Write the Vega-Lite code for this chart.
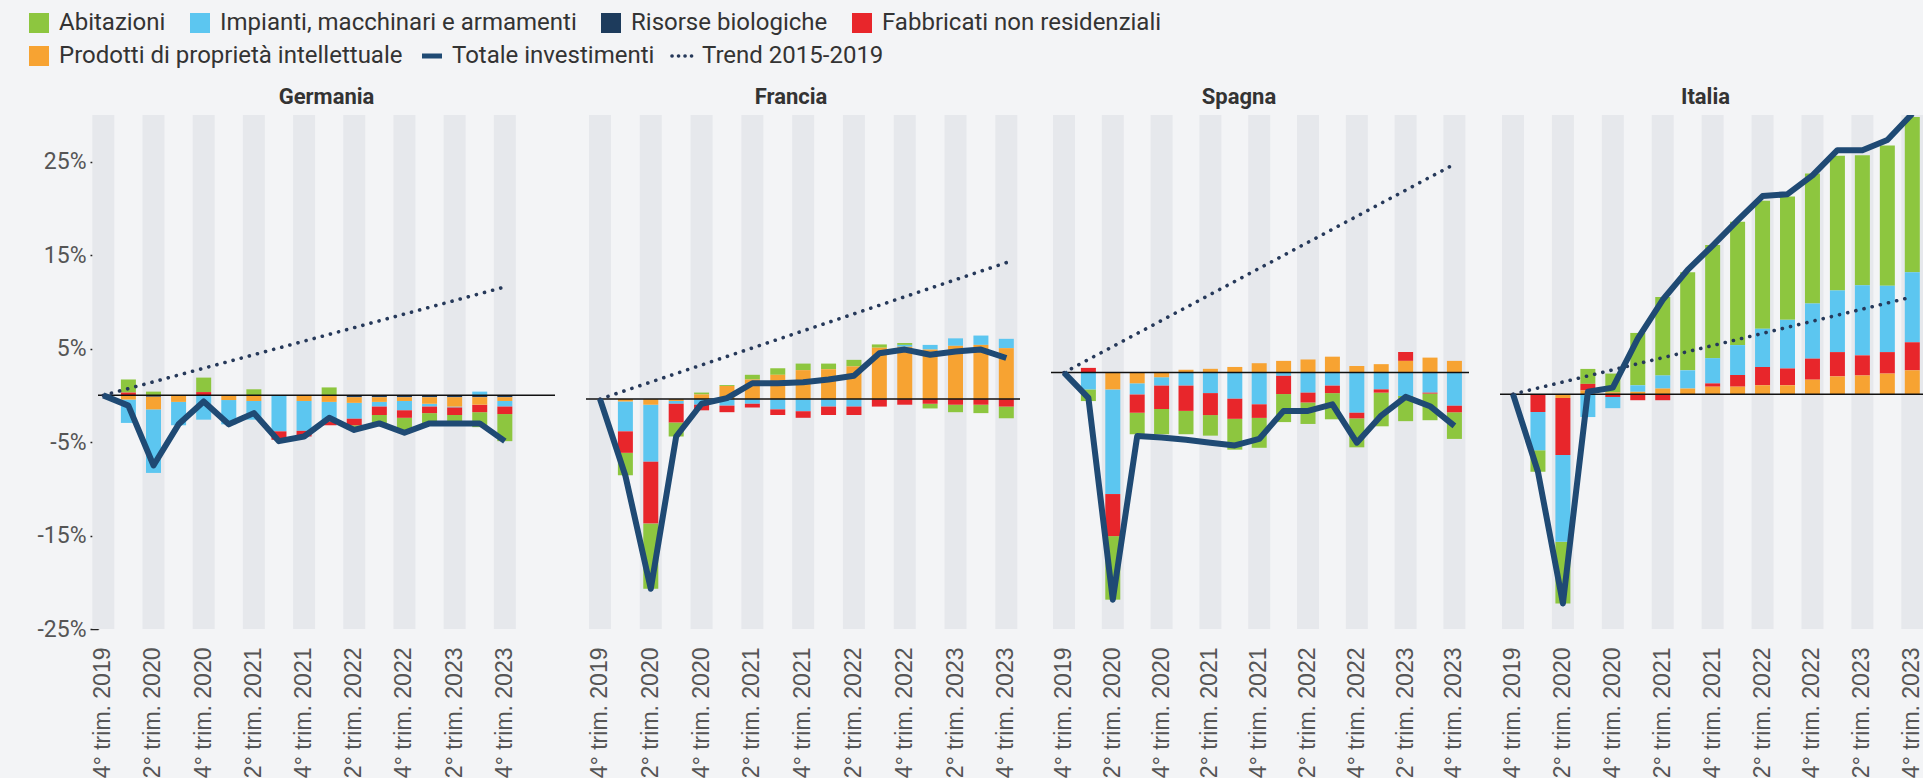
{
  "$schema": "https://vega.github.io/schema/vega-lite/v6.json",
  "background": "#f3f4f6",
  "padding": {"left": 27, "top": 11, "right": 0, "bottom": 0},
  "spacing": 29,
  "config": {
    "view": {"stroke": null},
    "title": {"font": "Roboto", "fontSize": 22, "fontWeight": "bold", "color": "#333333", "offset": 6, "anchor": "middle", "frame": "group"},
    "axisX": {"domain": false, "ticks": false, "grid": false, "labelAngle": -90, "labelPadding": 18, "labelFont": "Liberation Sans", "labelFontSize": 23, "labelColor": "#555555", "title": null, "labelOverlap": false},
    "axisY": {"grid": false, "title": null, "domainColor": "#222222", "domainWidth": 1.5, "tickColor": "#222222", "tickWidth": 1.5, "tickSize": 8, "labelFont": "Roboto", "labelFontSize": 23, "labelColor": "#555555", "labelPadding": 4}
  },
  "resolve": {"scale": {"fill": "shared", "color": "shared", "x": "independent", "y": "independent"}},
  "datasets": {
    "trimestri": [
      {"paese": "Germania", "trimestre": "4° trim. 2019", "Abitazioni": 0, "Impianti, macchinari e armamenti": 0, "Risorse biologiche": 0, "Fabbricati non residenziali": 0, "Prodotti di proprietà intellettuale": 0, "Totale investimenti": 0},
      {"paese": "Germania", "trimestre": "1° trim. 2020", "Abitazioni": 1.4, "Impianti, macchinari e armamenti": -2.5, "Risorse biologiche": 0, "Fabbricati non residenziali": 0.3, "Prodotti di proprietà intellettuale": -0.45, "Totale investimenti": -1.1},
      {"paese": "Germania", "trimestre": "2° trim. 2020", "Abitazioni": 0.4, "Impianti, macchinari e armamenti": -6.8, "Risorse biologiche": -0.15, "Fabbricati non residenziali": 0, "Prodotti di proprietà intellettuale": -1.35, "Totale investimenti": -7.5},
      {"paese": "Germania", "trimestre": "3° trim. 2020", "Abitazioni": 0, "Impianti, macchinari e armamenti": -2.5, "Risorse biologiche": 0, "Fabbricati non residenziali": 0, "Prodotti di proprietà intellettuale": -0.7, "Totale investimenti": -3.1},
      {"paese": "Germania", "trimestre": "4° trim. 2020", "Abitazioni": 1.55, "Impianti, macchinari e armamenti": -2.6, "Risorse biologiche": 0, "Fabbricati non residenziali": 0.35, "Prodotti di proprietà intellettuale": 0, "Totale investimenti": -0.65},
      {"paese": "Germania", "trimestre": "1° trim. 2021", "Abitazioni": 0, "Impianti, macchinari e armamenti": -2.6, "Risorse biologiche": 0, "Fabbricati non residenziali": 0, "Prodotti di proprietà intellettuale": -0.5, "Totale investimenti": -3.1},
      {"paese": "Germania", "trimestre": "2° trim. 2021", "Abitazioni": 0.65, "Impianti, macchinari e armamenti": -2.0, "Risorse biologiche": 0, "Fabbricati non residenziali": 0, "Prodotti di proprietà intellettuale": -0.6, "Totale investimenti": -1.9},
      {"paese": "Germania", "trimestre": "3° trim. 2021", "Abitazioni": 0, "Impianti, macchinari e armamenti": -3.85, "Risorse biologiche": 0, "Fabbricati non residenziali": -0.9, "Prodotti di proprietà intellettuale": 0, "Totale investimenti": -4.9},
      {"paese": "Germania", "trimestre": "4° trim. 2021", "Abitazioni": 0, "Impianti, macchinari e armamenti": -3.2, "Risorse biologiche": 0, "Fabbricati non residenziali": -0.6, "Prodotti di proprietà intellettuale": -0.6, "Totale investimenti": -4.4},
      {"paese": "Germania", "trimestre": "1° trim. 2022", "Abitazioni": 0.85, "Impianti, macchinari e armamenti": -2.1, "Risorse biologiche": 0, "Fabbricati non residenziali": -0.4, "Prodotti di proprietà intellettuale": -0.7, "Totale investimenti": -2.4},
      {"paese": "Germania", "trimestre": "2° trim. 2022", "Abitazioni": -0.5, "Impianti, macchinari e armamenti": -1.7, "Risorse biologiche": -0.2, "Fabbricati non residenziali": -0.7, "Prodotti di proprietà intellettuale": -0.6, "Totale investimenti": -3.7},
      {"paese": "Germania", "trimestre": "3° trim. 2022", "Abitazioni": -0.9, "Impianti, macchinari e armamenti": -0.5, "Risorse biologiche": -0.2, "Fabbricati non residenziali": -0.9, "Prodotti di proprietà intellettuale": -0.5, "Totale investimenti": -3.0},
      {"paese": "Germania", "trimestre": "4° trim. 2022", "Abitazioni": -1.6, "Impianti, macchinari e armamenti": -1.0, "Risorse biologiche": -0.2, "Fabbricati non residenziali": -0.8, "Prodotti di proprietà intellettuale": -0.4, "Totale investimenti": -4.0},
      {"paese": "Germania", "trimestre": "1° trim. 2023", "Abitazioni": -1.1, "Impianti, macchinari e armamenti": -0.3, "Risorse biologiche": -0.2, "Fabbricati non residenziali": -0.7, "Prodotti di proprietà intellettuale": -0.7, "Totale investimenti": -3.0},
      {"paese": "Germania", "trimestre": "2° trim. 2023", "Abitazioni": -0.9, "Impianti, macchinari e armamenti": -0.1, "Risorse biologiche": -0.2, "Fabbricati non residenziali": -0.8, "Prodotti di proprietà intellettuale": -1.0, "Totale investimenti": -3.0},
      {"paese": "Germania", "trimestre": "3° trim. 2023", "Abitazioni": -1.6, "Impianti, macchinari e armamenti": 0.4, "Risorse biologiche": -0.2, "Fabbricati non residenziali": -0.8, "Prodotti di proprietà intellettuale": -0.8, "Totale investimenti": -3.0},
      {"paese": "Germania", "trimestre": "4° trim. 2023", "Abitazioni": -2.9, "Impianti, macchinari e armamenti": -0.6, "Risorse biologiche": -0.2, "Fabbricati non residenziali": -0.8, "Prodotti di proprietà intellettuale": -0.4, "Totale investimenti": -4.9},
      {"paese": "Francia", "trimestre": "4° trim. 2019", "Abitazioni": 0, "Impianti, macchinari e armamenti": 0, "Risorse biologiche": 0, "Fabbricati non residenziali": 0, "Prodotti di proprietà intellettuale": 0, "Totale investimenti": 0},
      {"paese": "Francia", "trimestre": "1° trim. 2020", "Abitazioni": -2.4, "Impianti, macchinari e armamenti": -3.2, "Risorse biologiche": 0, "Fabbricati non residenziali": -2.3, "Prodotti di proprietà intellettuale": -0.25, "Totale investimenti": -8.2},
      {"paese": "Francia", "trimestre": "2° trim. 2020", "Abitazioni": -7.0, "Impianti, macchinari e armamenti": -6.1, "Risorse biologiche": 0, "Fabbricati non residenziali": -6.6, "Prodotti di proprietà intellettuale": -0.6, "Totale investimenti": -20.3},
      {"paese": "Francia", "trimestre": "3° trim. 2020", "Abitazioni": -1.5, "Impianti, macchinari e armamenti": -0.3, "Risorse biologiche": 0, "Fabbricati non residenziali": -2.0, "Prodotti di proprietà intellettuale": -0.2, "Totale investimenti": -4.0},
      {"paese": "Francia", "trimestre": "4° trim. 2020", "Abitazioni": 0.2, "Impianti, macchinari e armamenti": -0.6, "Risorse biologiche": 0, "Fabbricati non residenziali": -0.6, "Prodotti di proprietà intellettuale": 0.5, "Totale investimenti": -0.5},
      {"paese": "Francia", "trimestre": "1° trim. 2021", "Abitazioni": 0.1, "Impianti, macchinari e armamenti": -0.7, "Risorse biologiche": 0, "Fabbricati non residenziali": -0.7, "Prodotti di proprietà intellettuale": 1.4, "Totale investimenti": 0.1},
      {"paese": "Francia", "trimestre": "2° trim. 2021", "Abitazioni": 0.5, "Impianti, macchinari e armamenti": -0.5, "Risorse biologiche": 0, "Fabbricati non residenziali": -0.4, "Prodotti di proprietà intellettuale": 2.1, "Totale investimenti": 1.7},
      {"paese": "Francia", "trimestre": "3° trim. 2021", "Abitazioni": 0.7, "Impianti, macchinari e armamenti": -1.1, "Risorse biologiche": 0, "Fabbricati non residenziali": -0.6, "Prodotti di proprietà intellettuale": 2.6, "Totale investimenti": 1.7},
      {"paese": "Francia", "trimestre": "4° trim. 2021", "Abitazioni": 0.7, "Impianti, macchinari e armamenti": -1.3, "Risorse biologiche": 0, "Fabbricati non residenziali": -0.7, "Prodotti di proprietà intellettuale": 3.1, "Totale investimenti": 1.8},
      {"paese": "Francia", "trimestre": "1° trim. 2022", "Abitazioni": 0.6, "Impianti, macchinari e armamenti": -0.8, "Risorse biologiche": 0, "Fabbricati non residenziali": -0.9, "Prodotti di proprietà intellettuale": 3.2, "Totale investimenti": 2.1},
      {"paese": "Francia", "trimestre": "2° trim. 2022", "Abitazioni": 0.7, "Impianti, macchinari e armamenti": -0.8, "Risorse biologiche": 0, "Fabbricati non residenziali": -0.9, "Prodotti di proprietà intellettuale": 3.5, "Totale investimenti": 2.5},
      {"paese": "Francia", "trimestre": "3° trim. 2022", "Abitazioni": 0.35, "Impianti, macchinari e armamenti": 0, "Risorse biologiche": 0, "Fabbricati non residenziali": -0.8, "Prodotti di proprietà intellettuale": 5.5, "Totale investimenti": 4.9},
      {"paese": "Francia", "trimestre": "4° trim. 2022", "Abitazioni": 0.2, "Impianti, macchinari e armamenti": 0.2, "Risorse biologiche": 0, "Fabbricati non residenziali": -0.6, "Prodotti di proprietà intellettuale": 5.6, "Totale investimenti": 5.3},
      {"paese": "Francia", "trimestre": "1° trim. 2023", "Abitazioni": -0.5, "Impianti, macchinari e armamenti": 0.5, "Risorse biologiche": 0, "Fabbricati non residenziali": -0.5, "Prodotti di proprietà intellettuale": 5.3, "Totale investimenti": 4.75},
      {"paese": "Francia", "trimestre": "2° trim. 2023", "Abitazioni": -0.8, "Impianti, macchinari e armamenti": 0.8, "Risorse biologiche": 0, "Fabbricati non residenziali": -0.6, "Prodotti di proprietà intellettuale": 5.7, "Totale investimenti": 5.1},
      {"paese": "Francia", "trimestre": "3° trim. 2023", "Abitazioni": -0.9, "Impianti, macchinari e armamenti": 1.0, "Risorse biologiche": 0, "Fabbricati non residenziali": -0.6, "Prodotti di proprietà intellettuale": 5.8, "Totale investimenti": 5.3},
      {"paese": "Francia", "trimestre": "4° trim. 2023", "Abitazioni": -1.25, "Impianti, macchinari e armamenti": 1.0, "Risorse biologiche": 0, "Fabbricati non residenziali": -0.8, "Prodotti di proprietà intellettuale": 5.45, "Totale investimenti": 4.4},
      {"paese": "Spagna", "trimestre": "4° trim. 2019", "Abitazioni": 0, "Impianti, macchinari e armamenti": 0, "Risorse biologiche": 0, "Fabbricati non residenziali": 0, "Prodotti di proprietà intellettuale": 0, "Totale investimenti": 0},
      {"paese": "Spagna", "trimestre": "1° trim. 2020", "Abitazioni": -1.25, "Impianti, macchinari e armamenti": -1.8, "Risorse biologiche": 0, "Fabbricati non residenziali": 0.5, "Prodotti di proprietà intellettuale": 0, "Totale investimenti": -2.7},
      {"paese": "Spagna", "trimestre": "2° trim. 2020", "Abitazioni": -6.8, "Impianti, macchinari e armamenti": -11.2, "Risorse biologiche": 0, "Fabbricati non residenziali": -4.5, "Prodotti di proprietà intellettuale": -1.8, "Totale investimenti": -24.3},
      {"paese": "Spagna", "trimestre": "3° trim. 2020", "Abitazioni": -2.3, "Impianti, macchinari e armamenti": -1.2, "Risorse biologiche": 0, "Fabbricati non residenziali": -1.95, "Prodotti di proprietà intellettuale": -1.15, "Totale investimenti": -6.8},
      {"paese": "Spagna", "trimestre": "4° trim. 2020", "Abitazioni": -2.7, "Impianti, macchinari e armamenti": -0.9, "Risorse biologiche": 0, "Fabbricati non residenziali": -2.5, "Prodotti di proprietà intellettuale": -0.5, "Totale investimenti": -6.95},
      {"paese": "Spagna", "trimestre": "1° trim. 2021", "Abitazioni": -2.5, "Impianti, macchinari e armamenti": -1.4, "Risorse biologiche": 0, "Fabbricati non residenziali": -2.7, "Prodotti di proprietà intellettuale": 0.3, "Totale investimenti": -7.2},
      {"paese": "Spagna", "trimestre": "2° trim. 2021", "Abitazioni": -2.2, "Impianti, macchinari e armamenti": -2.2, "Risorse biologiche": 0, "Fabbricati non residenziali": -2.35, "Prodotti di proprietà intellettuale": 0.4, "Totale investimenti": -7.5},
      {"paese": "Spagna", "trimestre": "3° trim. 2021", "Abitazioni": -3.3, "Impianti, macchinari e armamenti": -2.8, "Risorse biologiche": 0, "Fabbricati non residenziali": -2.15, "Prodotti di proprietà intellettuale": 0.6, "Totale investimenti": -7.8},
      {"paese": "Spagna", "trimestre": "4° trim. 2021", "Abitazioni": -3.2, "Impianti, macchinari e armamenti": -3.4, "Risorse biologiche": 0, "Fabbricati non residenziali": -1.45, "Prodotti di proprietà intellettuale": 1.0, "Totale investimenti": -7.1},
      {"paese": "Spagna", "trimestre": "1° trim. 2022", "Abitazioni": -3.0, "Impianti, macchinari e armamenti": -0.35, "Risorse biologiche": 0, "Fabbricati non residenziali": -1.95, "Prodotti di proprietà intellettuale": 1.25, "Totale investimenti": -4.1},
      {"paese": "Spagna", "trimestre": "2° trim. 2022", "Abitazioni": -2.3, "Impianti, macchinari e armamenti": -2.15, "Risorse biologiche": 0, "Fabbricati non residenziali": -1.05, "Prodotti di proprietà intellettuale": 1.4, "Totale investimenti": -4.1},
      {"paese": "Spagna", "trimestre": "3° trim. 2022", "Abitazioni": -2.8, "Impianti, macchinari e armamenti": -1.4, "Risorse biologiche": 0, "Fabbricati non residenziali": -0.8, "Prodotti di proprietà intellettuale": 1.7, "Totale investimenti": -3.4},
      {"paese": "Spagna", "trimestre": "4° trim. 2022", "Abitazioni": -3.1, "Impianti, macchinari e armamenti": -4.3, "Risorse biologiche": 0, "Fabbricati non residenziali": -0.6, "Prodotti di proprietà intellettuale": 0.7, "Totale investimenti": -7.5},
      {"paese": "Spagna", "trimestre": "1° trim. 2023", "Abitazioni": -3.6, "Impianti, macchinari e armamenti": -1.8, "Risorse biologiche": 0, "Fabbricati non residenziali": -0.35, "Prodotti di proprietà intellettuale": 0.9, "Totale investimenti": -4.6},
      {"paese": "Spagna", "trimestre": "2° trim. 2023", "Abitazioni": -2.7, "Impianti, macchinari e armamenti": -2.5, "Risorse biologiche": 0, "Fabbricati non residenziali": 0.95, "Prodotti di proprietà intellettuale": 1.25, "Totale investimenti": -2.6},
      {"paese": "Spagna", "trimestre": "3° trim. 2023", "Abitazioni": -2.85, "Impianti, macchinari e armamenti": -2.15, "Risorse biologiche": 0, "Fabbricati non residenziali": -0.1, "Prodotti di proprietà intellettuale": 1.6, "Totale investimenti": -3.6},
      {"paese": "Spagna", "trimestre": "4° trim. 2023", "Abitazioni": -2.85, "Impianti, macchinari e armamenti": -3.55, "Risorse biologiche": 0, "Fabbricati non residenziali": -0.7, "Prodotti di proprietà intellettuale": 1.25, "Totale investimenti": -5.7},
      {"paese": "Italia", "trimestre": "4° trim. 2019", "Abitazioni": 0, "Impianti, macchinari e armamenti": 0, "Risorse biologiche": 0, "Fabbricati non residenziali": 0, "Prodotti di proprietà intellettuale": 0, "Totale investimenti": 0},
      {"paese": "Italia", "trimestre": "1° trim. 2020", "Abitazioni": -2.3, "Impianti, macchinari e armamenti": -4.1, "Risorse biologiche": 0, "Fabbricati non residenziali": -1.9, "Prodotti di proprietà intellettuale": 0, "Totale investimenti": -8.3},
      {"paese": "Italia", "trimestre": "2° trim. 2020", "Abitazioni": -6.6, "Impianti, macchinari e armamenti": -9.3, "Risorse biologiche": 0, "Fabbricati non residenziali": -6.1, "Prodotti di proprietà intellettuale": -0.4, "Totale investimenti": -22.4},
      {"paese": "Italia", "trimestre": "3° trim. 2020", "Abitazioni": 1.6, "Impianti, macchinari e armamenti": -2.45, "Risorse biologiche": 0, "Fabbricati non residenziali": 0.7, "Prodotti di proprietà intellettuale": 0.4, "Totale investimenti": 0.25},
      {"paese": "Italia", "trimestre": "4° trim. 2020", "Abitazioni": 2.0, "Impianti, macchinari e armamenti": -1.2, "Risorse biologiche": 0, "Fabbricati non residenziali": -0.3, "Prodotti di proprietà intellettuale": 0.2, "Totale investimenti": 0.7},
      {"paese": "Italia", "trimestre": "1° trim. 2021", "Abitazioni": 5.6, "Impianti, macchinari e armamenti": 0.7, "Risorse biologiche": 0, "Fabbricati non residenziali": -0.65, "Prodotti di proprietà intellettuale": 0.25, "Totale investimenti": 5.95},
      {"paese": "Italia", "trimestre": "2° trim. 2021", "Abitazioni": 8.4, "Impianti, macchinari e armamenti": 1.4, "Risorse biologiche": 0, "Fabbricati non residenziali": -0.65, "Prodotti di proprietà intellettuale": 0.6, "Totale investimenti": 10.1},
      {"paese": "Italia", "trimestre": "3° trim. 2021", "Abitazioni": 10.5, "Impianti, macchinari e armamenti": 1.95, "Risorse biologiche": 0, "Fabbricati non residenziali": 0, "Prodotti di proprietà intellettuale": 0.6, "Totale investimenti": 13.3},
      {"paese": "Italia", "trimestre": "4° trim. 2021", "Abitazioni": 12.1, "Impianti, macchinari e armamenti": 2.7, "Risorse biologiche": 0, "Fabbricati non residenziali": 0.35, "Prodotti di proprietà intellettuale": 0.8, "Totale investimenti": 15.9},
      {"paese": "Italia", "trimestre": "1° trim. 2022", "Abitazioni": 13.2, "Impianti, macchinari e armamenti": 3.2, "Risorse biologiche": 0, "Fabbricati non residenziali": 1.25, "Prodotti di proprietà intellettuale": 0.8, "Totale investimenti": 18.6},
      {"paese": "Italia", "trimestre": "2° trim. 2022", "Abitazioni": 13.7, "Impianti, macchinari e armamenti": 4.1, "Risorse biologiche": 0, "Fabbricati non residenziali": 1.95, "Prodotti di proprietà intellettuale": 0.95, "Totale investimenti": 21.2},
      {"paese": "Italia", "trimestre": "3° trim. 2022", "Abitazioni": 13.2, "Impianti, macchinari e armamenti": 5.2, "Risorse biologiche": 0, "Fabbricati non residenziali": 1.8, "Prodotti di proprietà intellettuale": 0.95, "Totale investimenti": 21.4},
      {"paese": "Italia", "trimestre": "4° trim. 2022", "Abitazioni": 13.9, "Impianti, macchinari e armamenti": 5.9, "Risorse biologiche": 0, "Fabbricati non residenziali": 2.25, "Prodotti di proprietà intellettuale": 1.55, "Totale investimenti": 23.4},
      {"paese": "Italia", "trimestre": "1° trim. 2023", "Abitazioni": 14.4, "Impianti, macchinari e armamenti": 6.6, "Risorse biologiche": 0, "Fabbricati non residenziali": 2.6, "Prodotti di proprietà intellettuale": 1.9, "Totale investimenti": 26.1},
      {"paese": "Italia", "trimestre": "2° trim. 2023", "Abitazioni": 13.9, "Impianti, macchinari e armamenti": 7.5, "Risorse biologiche": 0, "Fabbricati non residenziali": 2.15, "Prodotti di proprietà intellettuale": 2.0, "Totale investimenti": 26.1},
      {"paese": "Italia", "trimestre": "3° trim. 2023", "Abitazioni": 15.0, "Impianti, macchinari e armamenti": 7.1, "Risorse biologiche": 0, "Fabbricati non residenziali": 2.3, "Prodotti di proprietà intellettuale": 2.2, "Totale investimenti": 27.2},
      {"paese": "Italia", "trimestre": "4° trim. 2023", "Abitazioni": 16.6, "Impianti, macchinari e armamenti": 7.5, "Risorse biologiche": 0, "Fabbricati non residenziali": 3.0, "Prodotti di proprietà intellettuale": 2.55, "Totale investimenti": 30.0}
    ],
    "trend": [
      {"paese": "Germania", "trimestre": "4° trim. 2019", "Trend 2015-2019": 0},
      {"paese": "Germania", "trimestre": "4° trim. 2023", "Trend 2015-2019": 11.6},
      {"paese": "Francia", "trimestre": "4° trim. 2019", "Trend 2015-2019": 0},
      {"paese": "Francia", "trimestre": "4° trim. 2023", "Trend 2015-2019": 14.6},
      {"paese": "Spagna", "trimestre": "4° trim. 2019", "Trend 2015-2019": 0},
      {"paese": "Spagna", "trimestre": "4° trim. 2023", "Trend 2015-2019": 22.3},
      {"paese": "Italia", "trimestre": "4° trim. 2019", "Trend 2015-2019": 0},
      {"paese": "Italia", "trimestre": "4° trim. 2023", "Trend 2015-2019": 10.4}
    ]
  },
  "hconcat": [
    {
      "width": 457, "height": 514,
      "title": {"text": "Germania"},
      "layer": [
        {"data": {"name": "trimestri"},
         "transform": [{"filter": {"field": "paese", "equal": "Germania"}}, {"filter": {"field": "trimestre", "oneOf": ["4° trim. 2019", "2° trim. 2020", "4° trim. 2020", "2° trim. 2021", "4° trim. 2021", "2° trim. 2022", "4° trim. 2022", "2° trim. 2023", "4° trim. 2023"]}}],
         "mark": {"type": "bar", "width": 22, "color": "#e6e8ec"},
         "encoding": {
           "x": {"field": "trimestre", "type": "ordinal", "sort": null, "scale": {"domain": ["4° trim. 2019", "1° trim. 2020", "2° trim. 2020", "3° trim. 2020", "4° trim. 2020", "1° trim. 2021", "2° trim. 2021", "3° trim. 2021", "4° trim. 2021", "1° trim. 2022", "2° trim. 2022", "3° trim. 2022", "4° trim. 2022", "1° trim. 2023", "2° trim. 2023", "3° trim. 2023", "4° trim. 2023"], "paddingInner": 0.578, "paddingOuter": 0.894, "align": 0, "round": false}, "axis": {"values": ["4° trim. 2019", "2° trim. 2020", "4° trim. 2020", "2° trim. 2021", "4° trim. 2021", "2° trim. 2022", "4° trim. 2022", "2° trim. 2023", "4° trim. 2023"]}},
           "y": {"value": 0}, "y2": {"value": "height"}
         }},
        {"data": {"name": "trimestri"},
         "transform": [{"filter": {"field": "paese", "equal": "Germania"}}, {"fold": ["Abitazioni", "Impianti, macchinari e armamenti", "Risorse biologiche", "Fabbricati non residenziali", "Prodotti di proprietà intellettuale"], "as": ["componente", "valore"]}, {"calculate": "indexof(['Risorse biologiche', 'Prodotti di proprietà intellettuale', 'Impianti, macchinari e armamenti', 'Fabbricati non residenziali', 'Abitazioni'], datum.componente)", "as": "ordine"}],
         "mark": {"type": "bar", "width": 15},
         "encoding": {
           "x": {"field": "trimestre", "type": "ordinal", "sort": null},
           "y": {"field": "valore", "type": "quantitative", "stack": "zero", "scale": {"domain": [-25, 30], "nice": false, "zero": false}, "axis": {"values": [-25, -15, -5, 5, 15, 25], "labelExpr": "datum.value + '%'"}},
           "fill": {"field": "componente", "type": "nominal",
             "scale": {"domain": ["Abitazioni", "Impianti, macchinari e armamenti", "Risorse biologiche", "Fabbricati non residenziali", "Prodotti di proprietà intellettuale"], "range": ["#8dc63f", "#5cc6f0", "#1d3b5c", "#e8262b", "#f7a332"]},
             "legend": {"orient": "none", "legendX": -71, "legendY": -104, "direction": "horizontal", "title": null, "padding": 0,
               "values": ["Abitazioni", "Impianti, macchinari e armamenti", "Risorse biologiche", "Fabbricati non residenziali"],
               "symbolType": "square", "symbolSize": 400, "symbolStrokeWidth": 0, "symbolOpacity": 1,
               "labelFont": "Roboto", "labelFontSize": 24, "labelColor": "#333333", "labelLimit": 800, "labelOffset": 8, "columnPadding": 22}},
           "order": {"field": "ordine", "type": "quantitative"}
         }},
        {"data": {"values": [{}]},
         "mark": {"type": "rule", "color": "#111111", "strokeWidth": 1.5},
         "encoding": {"y": {"datum": 0, "type": "quantitative"}}},
        {"data": {"name": "trend"},
         "transform": [{"filter": {"field": "paese", "equal": "Germania"}}],
         "mark": {"type": "line", "strokeWidth": 3.6, "strokeDash": [0.1, 8.3], "strokeCap": "round"},
         "encoding": {
           "x": {"field": "trimestre", "type": "ordinal", "sort": null},
           "y": {"field": "Trend 2015-2019", "type": "quantitative"},
           "color": {"datum": "Trend 2015-2019",
             "scale": {"domain": ["Prodotti di proprietà intellettuale", "Totale investimenti", "Trend 2015-2019"], "range": ["#f7a332", "#1f4a74", "#26395a"]},
             "legend": {"orient": "none", "legendX": -71, "legendY": -71, "direction": "horizontal", "title": null, "padding": 0,
               "values": ["Prodotti di proprietà intellettuale", "Totale investimenti", "Trend 2015-2019"],
               "symbolSize": 400,
               "labelFont": "Roboto", "labelFontSize": 24, "labelColor": "#333333", "labelLimit": 800, "labelOffset": 8, "columnPadding": 9,
               "encode": {"symbols": {"update": {
                 "shape": {"signal": "datum.value === 'Prodotti di proprietà intellettuale' ? 'square' : 'stroke'"},
                 "fill": {"signal": "datum.value === 'Prodotti di proprietà intellettuale' ? scale('color', datum.value) : 'transparent'"},
                 "stroke": {"signal": "scale('color', datum.value)"},
                 "strokeWidth": {"signal": "datum.value === 'Totale investimenti' ? 5 : (datum.value === 'Trend 2015-2019' ? 3.6 : 0)"},
                 "strokeDash": {"signal": "datum.value === 'Trend 2015-2019' ? [0.1, 6.4] : []"},
                 "strokeCap": {"signal": "datum.value === 'Trend 2015-2019' ? 'round' : 'butt'"},
                 "opacity": {"value": 1}
               }}}}}
         }},
        {"data": {"name": "trimestri"},
         "transform": [{"filter": {"field": "paese", "equal": "Germania"}}],
         "mark": {"type": "line", "strokeWidth": 6, "strokeJoin": "round"},
         "encoding": {
           "x": {"field": "trimestre", "type": "ordinal", "sort": null},
           "y": {"field": "Totale investimenti", "type": "quantitative"},
           "color": {"datum": "Totale investimenti"}
         }}
      ]
    },
    {
      "width": 434, "height": 514,
      "title": {"text": "Francia", "dx": -12},
      "layer": [
        {"data": {"name": "trimestri"},
         "transform": [{"filter": {"field": "paese", "equal": "Francia"}}, {"filter": {"field": "trimestre", "oneOf": ["4° trim. 2019", "2° trim. 2020", "4° trim. 2020", "2° trim. 2021", "4° trim. 2021", "2° trim. 2022", "4° trim. 2022", "2° trim. 2023", "4° trim. 2023"]}}],
         "mark": {"type": "bar", "width": 22, "color": "#e6e8ec"},
         "encoding": {
           "x": {"field": "trimestre", "type": "ordinal", "sort": null, "scale": {"domain": ["4° trim. 2019", "1° trim. 2020", "2° trim. 2020", "3° trim. 2020", "4° trim. 2020", "1° trim. 2021", "2° trim. 2021", "3° trim. 2021", "4° trim. 2021", "1° trim. 2022", "2° trim. 2022", "3° trim. 2022", "4° trim. 2022", "1° trim. 2023", "2° trim. 2023", "3° trim. 2023", "4° trim. 2023"], "paddingInner": 0, "paddingOuter": 0.045, "align": 0.57, "round": false}, "axis": {"values": ["4° trim. 2019", "2° trim. 2020", "4° trim. 2020", "2° trim. 2021", "4° trim. 2021", "2° trim. 2022", "4° trim. 2022", "2° trim. 2023", "4° trim. 2023"]}},
           "y": {"value": 0}, "y2": {"value": "height"}
         }},
        {"data": {"name": "trimestri"},
         "transform": [{"filter": {"field": "paese", "equal": "Francia"}}, {"fold": ["Abitazioni", "Impianti, macchinari e armamenti", "Risorse biologiche", "Fabbricati non residenziali", "Prodotti di proprietà intellettuale"], "as": ["componente", "valore"]}, {"calculate": "indexof(['Risorse biologiche', 'Prodotti di proprietà intellettuale', 'Impianti, macchinari e armamenti', 'Fabbricati non residenziali', 'Abitazioni'], datum.componente)", "as": "ordine"}],
         "mark": {"type": "bar", "width": 15},
         "encoding": {
           "x": {"field": "trimestre", "type": "ordinal", "sort": null},
           "y": {"field": "valore", "type": "quantitative", "stack": "zero", "scale": {"domain": [-24.6, 30.4], "nice": false, "zero": false}, "axis": null},
           "fill": {"field": "componente", "type": "nominal"},
           "order": {"field": "ordine", "type": "quantitative"}
         }},
        {"data": {"values": [{}]},
         "mark": {"type": "rule", "color": "#111111", "strokeWidth": 1.5},
         "encoding": {"y": {"datum": 0, "type": "quantitative"}}},
        {"data": {"name": "trend"},
         "transform": [{"filter": {"field": "paese", "equal": "Francia"}}],
         "mark": {"type": "line", "strokeWidth": 3.6, "strokeDash": [0.1, 8.3], "strokeCap": "round"},
         "encoding": {
           "x": {"field": "trimestre", "type": "ordinal", "sort": null},
           "y": {"field": "Trend 2015-2019", "type": "quantitative", "axis": null},
           "color": {"datum": "Trend 2015-2019"}
         }},
        {"data": {"name": "trimestri"},
         "transform": [{"filter": {"field": "paese", "equal": "Francia"}}],
         "mark": {"type": "line", "strokeWidth": 6, "strokeJoin": "round"},
         "encoding": {
           "x": {"field": "trimestre", "type": "ordinal", "sort": null},
           "y": {"field": "Totale investimenti", "type": "quantitative", "axis": null},
           "color": {"datum": "Totale investimenti"}
         }}
      ]
    },
    {
      "width": 418, "height": 514,
      "title": {"text": "Spagna", "dx": -21},
      "layer": [
        {"data": {"name": "trimestri"},
         "transform": [{"filter": {"field": "paese", "equal": "Spagna"}}, {"filter": {"field": "trimestre", "oneOf": ["4° trim. 2019", "2° trim. 2020", "4° trim. 2020", "2° trim. 2021", "4° trim. 2021", "2° trim. 2022", "4° trim. 2022", "2° trim. 2023", "4° trim. 2023"]}}],
         "mark": {"type": "bar", "width": 22, "color": "#e6e8ec"},
         "encoding": {
           "x": {"field": "trimestre", "type": "ordinal", "sort": null, "scale": {"domain": ["4° trim. 2019", "1° trim. 2020", "2° trim. 2020", "3° trim. 2020", "4° trim. 2020", "1° trim. 2021", "2° trim. 2021", "3° trim. 2021", "4° trim. 2021", "1° trim. 2022", "2° trim. 2022", "3° trim. 2022", "4° trim. 2022", "1° trim. 2023", "2° trim. 2023", "3° trim. 2023", "4° trim. 2023"], "paddingInner": 0, "paddingOuter": 0.065, "align": 0.25, "round": false}, "axis": {"values": ["4° trim. 2019", "2° trim. 2020", "4° trim. 2020", "2° trim. 2021", "4° trim. 2021", "2° trim. 2022", "4° trim. 2022", "2° trim. 2023", "4° trim. 2023"]}},
           "y": {"value": 0}, "y2": {"value": "height"}
         }},
        {"data": {"name": "trimestri"},
         "transform": [{"filter": {"field": "paese", "equal": "Spagna"}}, {"fold": ["Abitazioni", "Impianti, macchinari e armamenti", "Risorse biologiche", "Fabbricati non residenziali", "Prodotti di proprietà intellettuale"], "as": ["componente", "valore"]}, {"calculate": "indexof(['Risorse biologiche', 'Prodotti di proprietà intellettuale', 'Impianti, macchinari e armamenti', 'Fabbricati non residenziali', 'Abitazioni'], datum.componente)", "as": "ordine"}],
         "mark": {"type": "bar", "width": 15},
         "encoding": {
           "x": {"field": "trimestre", "type": "ordinal", "sort": null},
           "y": {"field": "valore", "type": "quantitative", "stack": "zero", "scale": {"domain": [-27.44, 27.56], "nice": false, "zero": false}, "axis": null},
           "fill": {"field": "componente", "type": "nominal"},
           "order": {"field": "ordine", "type": "quantitative"}
         }},
        {"data": {"values": [{}]},
         "mark": {"type": "rule", "color": "#111111", "strokeWidth": 1.5},
         "encoding": {"y": {"datum": 0, "type": "quantitative"}}},
        {"data": {"name": "trend"},
         "transform": [{"filter": {"field": "paese", "equal": "Spagna"}}],
         "mark": {"type": "line", "strokeWidth": 3.6, "strokeDash": [0.1, 8.3], "strokeCap": "round"},
         "encoding": {
           "x": {"field": "trimestre", "type": "ordinal", "sort": null},
           "y": {"field": "Trend 2015-2019", "type": "quantitative", "axis": null},
           "color": {"datum": "Trend 2015-2019"}
         }},
        {"data": {"name": "trimestri"},
         "transform": [{"filter": {"field": "paese", "equal": "Spagna"}}],
         "mark": {"type": "line", "strokeWidth": 6, "strokeJoin": "round"},
         "encoding": {
           "x": {"field": "trimestre", "type": "ordinal", "sort": null},
           "y": {"field": "Totale investimenti", "type": "quantitative", "axis": null},
           "color": {"datum": "Totale investimenti"}
         }}
      ]
    },
    {
      "width": 429, "height": 514,
      "title": {"text": "Italia", "dx": -9},
      "layer": [
        {"data": {"name": "trimestri"},
         "transform": [{"filter": {"field": "paese", "equal": "Italia"}}, {"filter": {"field": "trimestre", "oneOf": ["4° trim. 2019", "2° trim. 2020", "4° trim. 2020", "2° trim. 2021", "4° trim. 2021", "2° trim. 2022", "4° trim. 2022", "2° trim. 2023", "4° trim. 2023"]}}],
         "mark": {"type": "bar", "width": 22, "color": "#e6e8ec"},
         "encoding": {
           "x": {"field": "trimestre", "type": "ordinal", "sort": null, "scale": {"domain": ["4° trim. 2019", "1° trim. 2020", "2° trim. 2020", "3° trim. 2020", "4° trim. 2020", "1° trim. 2021", "2° trim. 2021", "3° trim. 2021", "4° trim. 2021", "1° trim. 2022", "2° trim. 2022", "3° trim. 2022", "4° trim. 2022", "1° trim. 2023", "2° trim. 2023", "3° trim. 2023", "4° trim. 2023"], "paddingInner": 0.05, "paddingOuter": 0.12, "align": 0.19, "round": false}, "axis": {"values": ["4° trim. 2019", "2° trim. 2020", "4° trim. 2020", "2° trim. 2021", "4° trim. 2021", "2° trim. 2022", "4° trim. 2022", "2° trim. 2023", "4° trim. 2023"]}},
           "y": {"value": 0}, "y2": {"value": "height"}
         }},
        {"data": {"name": "trimestri"},
         "transform": [{"filter": {"field": "paese", "equal": "Italia"}}, {"fold": ["Abitazioni", "Impianti, macchinari e armamenti", "Risorse biologiche", "Fabbricati non residenziali", "Prodotti di proprietà intellettuale"], "as": ["componente", "valore"]}, {"calculate": "indexof(['Risorse biologiche', 'Prodotti di proprietà intellettuale', 'Fabbricati non residenziali', 'Impianti, macchinari e armamenti', 'Abitazioni'], datum.componente)", "as": "ordine"}],
         "mark": {"type": "bar", "width": 15, "clip": true},
         "encoding": {
           "x": {"field": "trimestre", "type": "ordinal", "sort": null},
           "y": {"field": "valore", "type": "quantitative", "stack": "zero", "scale": {"domain": [-25.13, 29.87], "nice": false, "zero": false}, "axis": null},
           "fill": {"field": "componente", "type": "nominal"},
           "order": {"field": "ordine", "type": "quantitative"}
         }},
        {"data": {"values": [{}]},
         "mark": {"type": "rule", "color": "#111111", "strokeWidth": 1.5},
         "encoding": {"y": {"datum": 0, "type": "quantitative"}}},
        {"data": {"name": "trend"},
         "transform": [{"filter": {"field": "paese", "equal": "Italia"}}],
         "mark": {"type": "line", "strokeWidth": 3.6, "strokeDash": [0.1, 8.3], "strokeCap": "round"},
         "encoding": {
           "x": {"field": "trimestre", "type": "ordinal", "sort": null},
           "y": {"field": "Trend 2015-2019", "type": "quantitative", "axis": null},
           "color": {"datum": "Trend 2015-2019"}
         }},
        {"data": {"name": "trimestri"},
         "transform": [{"filter": {"field": "paese", "equal": "Italia"}}],
         "mark": {"type": "line", "strokeWidth": 6, "strokeJoin": "round", "clip": true},
         "encoding": {
           "x": {"field": "trimestre", "type": "ordinal", "sort": null},
           "y": {"field": "Totale investimenti", "type": "quantitative", "axis": null},
           "color": {"datum": "Totale investimenti"}
         }}
      ]
    }
  ]
}
